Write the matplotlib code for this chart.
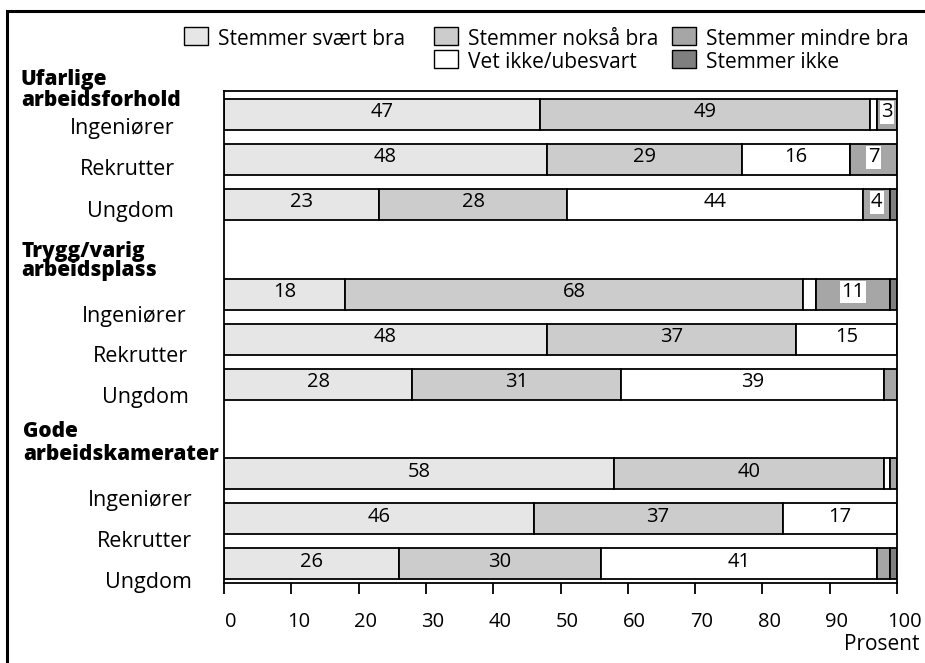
import numpy as np
import matplotlib
matplotlib.use('Agg')
import matplotlib.pyplot as plt
from matplotlib.patches import Rectangle
from matplotlib.transforms import ScaledTranslation

plt.rcParams['font.family'] = ['Open Sans', 'DejaVu Sans']

#data, order: Ufarlige, Trygg/varig, Gode (each Ingeniører, Rekrutter, Ungdom)
groups = ['Ufarlige\narbeidsforhold', 'Trygg/varig\narbeidsplass', 'Gode\narbeidskamerater']
members = ['Ingeniører', 'Rekrutter', 'Ungdom']
series_names = ['Stemmer svært bra', 'Stemmer nokså bra', 'Vet ikke/ubesvart',
                'Stemmer mindre bra', 'Stemmer ikke']
svaert_bra = [47, 48, 23, 18, 48, 28, 58, 46, 26]
noksaa_bra = [49, 29, 28, 68, 37, 31, 40, 37, 30]
vet_ikke = [1, 16, 44, 2, 15, 39, 1, 17, 41]
mindre_bra = [3, 7, 4, 11, 0, 2, 1, 0, 2]
stemmer_ikke = [0, 0, 1, 1, 0, 0, 0, 0, 1]
xticks = [0, 10, 20, 30, 40, 50, 60, 70, 80, 90, 100]

colors = ['#e6e6e6', '#cccccc', '#ffffff', '#a6a6a6', '#7f7f7f']
series = [svaert_bra, noksaa_bra, vet_ikke, mindre_bra, stemmer_ikke]

W, H = 925, 663
def px(x, y):
    #pixel position (from top left) to figure fraction
    return x / W, 1 - y / H

fig = plt.figure(figsize=(W / 100, H / 100), dpi=100)
ax = fig.add_axes([224 / W, 1 - 583 / H, 673 / W, (583 - 91) / H])

#bar slots: 3 bars per group, one empty slot between groups
pos = np.array([g * 4 + i for g in range(len(groups)) for i in range(len(members))])

left = np.zeros(len(pos))
for k, (vals, col) in enumerate(zip(series, colors)):
    vals = np.array(vals, dtype=float)
    ax.barh(pos, vals, left=left, height=0.69, color=col, edgecolor='black', linewidth=1.3)
    for p, l, v in zip(pos, left, vals):
        if v >= 3:
            bb = dict(facecolor='white', edgecolor='none', pad=1.0) if k == 3 else None
            ax.text(l + v / 2, p - 0.05, '%d' % v, ha='center', va='center',
                    fontsize=14.5, bbox=bb)
    left = left + vals

ax.set_xlim(0, 100)
ax.set_ylim(10.427, -0.523)
ax.set_yticks([])
ax.set_xticks(xticks)
ax.tick_params(axis='x', length=8, width=1.3, pad=13, labelsize=14.5)
for lab in ax.get_xticklabels():
    lab.set_transform(lab.get_transform() + ScaledTranslation(7 / 100, 0, fig.dpi_scale_trans))
for s in ax.spines.values():
    s.set_linewidth(1.3)

fig.text(*px(920, 650), 'Prosent', ha='right', va='baseline', fontsize=15)

#group headers and member labels (placed like in the original, not centred on the bars)
head_pos = [(21, 85, 106), (21, 257, 276), (23, 437, 460)]
member_pos = [[(175, 134), (175, 175), (174, 217)],
              [(187, 322), (188, 362), (189, 403)],
              [(193, 506), (192, 547), (192, 588)]]
for g, name in enumerate(groups):
    x, y1, y2 = head_pos[g]
    l1, l2 = name.split('\n')
    fig.text(*px(x, y1), l1, ha='left', va='baseline', fontsize=15, fontweight='heavy')
    fig.text(*px(x, y2), l2, ha='left', va='baseline', fontsize=15, fontweight='heavy')
    for i, m in enumerate(members):
        x, y = member_pos[g][i]
        fig.text(*px(x, y), m, ha='right', va='baseline', fontsize=15.5)

#legend drawn by hand: 3 columns, second row starts in column 2
leg_cells = [(184, 27), (434, 27), (434, 50), (672, 27), (672, 50)]
for (x, y), name, col in zip(leg_cells, series_names, colors):
    bx, by = px(x, y + 18)
    fig.patches.append(Rectangle((bx, by), 24 / W, 18 / H, transform=fig.transFigure,
                                 facecolor=col, edgecolor='black', linewidth=1.0))
    fig.text(*px(x + 34, y + 18), name, ha='left', va='baseline', fontsize=15)

#outer frame, open to the bottom and right
fig.patches.append(Rectangle(px(7, 700), 930 / W, 689 / H, transform=fig.transFigure,
                             facecolor='none', edgecolor='black', linewidth=2.2, clip_on=False))

fig.savefig('out.png', dpi=100)
